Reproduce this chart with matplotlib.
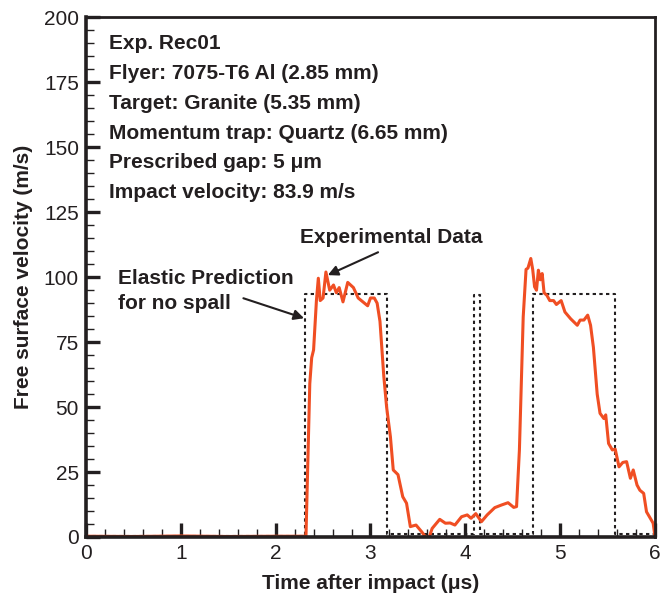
import matplotlib as mplib
mplib.use('Agg')
import matplotlib.pyplot as plt
from matplotlib.ticker import MultipleLocator

exp_t = [0.0, 0.5, 1.0, 1.5, 2.0, 2.30, 2.32, 2.36, 2.38, 2.40, 2.43, 2.45, 2.47,
         2.50, 2.53, 2.57, 2.61, 2.64, 2.67, 2.71, 2.76, 2.82, 2.87, 2.92, 2.97,
         3.00, 3.04, 3.07, 3.10, 3.14, 3.17, 3.21, 3.24, 3.29, 3.34, 3.38, 3.42,
         3.48, 3.54, 3.58, 3.62, 3.65, 3.73, 3.79, 3.84, 3.89, 3.96, 4.02, 4.06,
         4.11, 4.17, 4.23, 4.31, 4.38, 4.45, 4.51, 4.54, 4.57, 4.61, 4.64, 4.66,
         4.69, 4.71, 4.73, 4.75, 4.77, 4.79, 4.81, 4.83, 4.86, 4.89, 4.93, 4.96,
         5.01, 5.05, 5.11, 5.18, 5.21, 5.25, 5.29, 5.32, 5.35, 5.39, 5.42, 5.46,
         5.48, 5.51, 5.55, 5.58, 5.62, 5.66, 5.70, 5.74, 5.77, 5.81, 5.84, 5.88,
         5.91, 5.95, 5.98, 6.0]
exp_v = [0.3, 0.2, 0.4, 0.2, 0.3, 0.3, 0.5, 59, 69, 72, 91, 99.6, 91,
         92, 102, 95, 97, 94, 96, 90.5, 98, 96, 92, 90.5, 89,
         92, 92, 90, 83, 62, 50, 38.6, 25.8, 24, 15.5, 13, 4,
         4.6, 2, 0, 0, 3.3, 6.8, 5.3, 5.4, 4.6, 7.8, 8.5, 7.2,
         9, 5.9, 8.5, 11.3, 12.3, 13.2, 11.4, 11.7, 33.5, 84.7, 103, 103.5,
         107.2, 103, 96.3, 95, 102.7, 99, 101.4, 94, 93, 91, 91, 89.5,
         91, 86.6, 84, 81.5, 83.5, 83.5, 85.4, 81.5, 73, 55, 47.6, 45.6,
         47, 36, 33.5, 33.8, 27, 28.7, 29, 22.6, 25.8, 20, 18, 16.8,
         9.7, 7.2, 5.3, 0]

# elastic prediction for no spall
pred_t = [0.0, 2.31, 2.31, 3.17, 3.17, 4.09, 4.09, 4.15, 4.15, 4.71, 4.71, 5.58, 5.58, 6.0]
pred_v = [0.3, 0.3, 93.7, 93.7, 1.2, 1.2, 93.0, 93.0, 1.2, 1.2, 93.5, 93.5, 1.2, 1.2]

info_lines = ['Exp. Rec01',
              'Flyer: 7075-T6 Al (2.85 mm)',
              'Target: Granite (5.35 mm)',
              'Momentum trap: Quartz (6.65 mm)',
              'Prescribed gap: 5 \u03bcm',
              'Impact velocity: 83.9 m/s']

INK = '#231f20'


def arrow(ax, tail, head):
    ax.annotate('', xy=head, xytext=tail,
                arrowprops=dict(arrowstyle='-|>', color=INK, lw=1.5,
                                mutation_scale=15, shrinkA=0, shrinkB=0))


def make_plot():
    mplib.rc('font', family='Liberation Sans', size=15)

    fig = plt.figure(figsize=(6.61, 6.0), dpi=100)
    ax = fig.add_axes([0.130, 0.105, 0.861, 0.866])

    ax.plot(pred_t, pred_v, color=INK, linestyle=(0, (1.6, 1.6)), linewidth=1.5)
    ax.plot(exp_t, exp_v, color='#f04e23', linewidth=2.2)

    ax.set_xlim(0, 6)
    ax.set_ylim(0, 200)
    ax.xaxis.set_major_locator(MultipleLocator(1))
    ax.xaxis.set_minor_locator(MultipleLocator(0.2))
    ax.yaxis.set_major_locator(MultipleLocator(25))
    ax.yaxis.set_minor_locator(MultipleLocator(5))
    ax.tick_params(which='major', direction='in', length=10, width=2.4, color=INK,
                   labelsize=15, pad=5, top=False, right=False, labelcolor=INK)
    ax.tick_params(which='minor', direction='in', length=5.5, width=1.0, color=INK,
                   top=False, right=False)
    for side in ['left', 'bottom']:
        ax.spines[side].set_linewidth(2.6)
    for side in ['top', 'right']:
        ax.spines[side].set_linewidth(2.0)
    for s in ax.spines.values():
        s.set_color(INK)

    ax.set_xlabel('Time after impact (\u03bcs)', fontweight='bold', labelpad=8, color=INK)
    ax.set_ylabel('Free surface velocity (m/s)', fontweight='bold', labelpad=8, color=INK)

    for i, line in enumerate(info_lines):
        ax.text(0.24, 190 - i * 11.5, line, fontweight='bold', fontsize=15,
                va='center', color=INK)

    ax.text(2.26, 115.3, 'Experimental Data', fontweight='bold', fontsize=15,
            va='center', color=INK)
    arrow(ax, (3.08, 109.6), (2.55, 100.8))

    ax.text(0.34, 94.8, 'Elastic Prediction\nfor no spall', fontweight='bold', fontsize=15,
            va='center', color=INK, linespacing=1.42)
    arrow(ax, (1.66, 91.9), (2.30, 84.2))

    plt.savefig('out.png', dpi=100)
    plt.close('all')


make_plot()
